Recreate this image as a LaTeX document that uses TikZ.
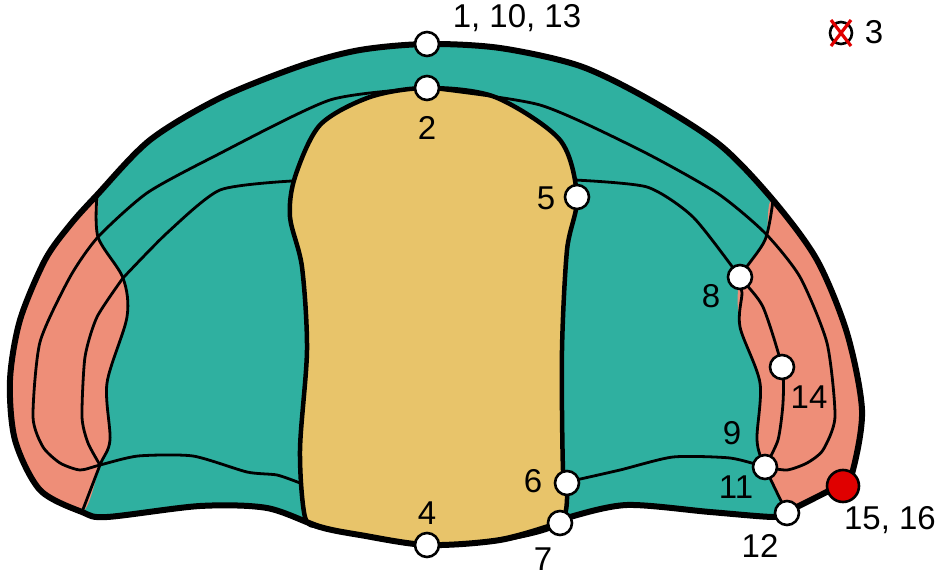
\documentclass[tikz,border=0pt]{standalone}
\usepackage{fontspec}
\usetikzlibrary{calc}
\setmainfont{Liberation Sans}
\definecolor{teal1}{HTML}{2FB0A0}
\definecolor{pink1}{HTML}{EE8E78}
\definecolor{yel1}{HTML}{E8C46A}
\definecolor{red1}{HTML}{E00000}
\tikzset{
 lm/.style={circle,draw=black,fill=white,line width=2.6pt,minimum size=24pt,inner sep=0pt},
 rlm/.style={lm,fill=red1,minimum size=32pt},
 lab/.style={font=\fontsize{33}{34}\selectfont,inner sep=0pt},
 thin/.style={line width=2.8pt,line join=round},
 outl/.style={line width=6pt,line join=round}
}
\begin{document}
\begin{tikzpicture}[x=1pt,y=-1pt]
\useasboundingbox (0,0) rectangle (950,577);
\def\outer{(97,195) (150,140) (220,98) (300,66) (360,50) (427,44) (500,48) (580,66) (650,100) (720,145) (773,200) (817,260) (847,333) (862,410) (853,470) (843,483) (797,507) (787,513) (773,517) (710,512) (627,505) (570,517) (560,523) (500,540) (427,545) (360,535) (320,527) (267,508) (200,506) (107,517) (82,512) (40,490) (15,440) (10,380) (20,320) (45,260) (70,225)}
\fill[teal1] plot[smooth cycle,tension=0.5] coordinates {\outer};
\fill[pink1] plot[smooth cycle,tension=0.5] coordinates {(97,195) (70,225) (45,260) (20,320) (10,380) (15,440) (40,490) (82,512) (100,465) (110,440) (107,383) (127,317) (123,278) (98,237)};
\fill[pink1] plot[smooth cycle,tension=0.5] coordinates {(773,200) (817,260) (847,333) (862,410) (853,470) (843,483) (797,507) (787,513) (765,467) (757,440) (760,383) (740,327) (740,277) (765,240)};
\filldraw[fill=yel1,draw=black,line width=4.5pt] plot[smooth cycle,tension=0.5] coordinates {(427,88) (370,97) (320,125) (295,177) (290,217) (302,267) (307,350) (300,450) (305,517) (320,527) (360,535) (427,545) (500,540) (560,523) (567,483) (563,470) (562,350) (567,250) (577,197) (560,140) (495,97)};
\draw[thin] plot[smooth,tension=0.5] coordinates {(97,195) (98,237) (123,278) (127,317) (107,383) (110,440) (100,465) (82,512)};
\draw[thin] plot[smooth,tension=0.5] coordinates {(773,200) (765,240) (740,277) (742,293) (740,327) (760,383) (757,440) (765,467) (787,513)};
\draw[thin] plot[smooth,tension=0.4] coordinates {(427,88) (330,100) (213,157) (147,193) (98,237) (70,277) (40,342) (33,417) (43,447) (60,463) (80,470) (100,465) (138,456) (193,456) (247,472) (277,475) (300,483)};
\draw[thin] plot[smooth,tension=0.4] coordinates {(123,278) (97,317) (85,357) (82,417) (88,443) (100,465)};
\draw[thin] plot[smooth,tension=0.4] coordinates {(123,278) (167,233) (220,190) (292,181)};
\draw[thin] plot[smooth,tension=0.4] coordinates {(427,88) (540,105) (640,150) (717,193) (765,233) (800,277) (827,343) (835,417) (823,450) (807,463) (787,470) (765,467)};
\draw[thin] plot[smooth,tension=0.4] coordinates {(575,180) (647,187) (693,217) (740,277) (763,307) (782,367) (783,403) (778,440) (765,467)};
\draw[thin] plot[smooth,tension=0.4] coordinates {(567,482) (620,470) (673,457) (730,458) (765,467)};
\draw[outl] plot[smooth cycle,tension=0.5] coordinates {\outer};
\node[lm] (p1) at (427,44) {};
\node[lm] (p2) at (427,88) {};
\node[lm] (p5) at (577,197) {};
\node[lm] (p8) at (740,277) {};
\node[lm] (p14) at (782,367) {};
\node[lm] (p11) at (765,467) {};
\node[lm] (p12) at (787,513) {};
\node[lm] (p6) at (567,483) {};
\node[lm] (p7) at (560,523) {};
\node[lm] (p4) at (427,545) {};
\node[rlm] (p15) at (843,486) {};
\node[lab] (l1) at (517,18) {1, 10, 13};
\node[lab] (l2) at (427,128) {2};
\node[lab] (l5) at (546,198) {5};
\node[lab] (l8) at (711,296) {8};
\node[lab] (l14) at (809,397) {14};
\node[lab] (l9) at (732,433) {9};
\node[lab] (l11) at (736,487) {11};
\node[lab] (l6) at (533,481) {6};
\node[lab] (l4) at (427,513) {4};
\node[lab] (l7) at (543,559) {7};
\node[lab] (l12) at (760,546) {12};
\node[lab] (l15) at (890,520) {15, 16};
\node[lab] (l3) at (874,32) {3};
\node[circle,draw=black,line width=2.6pt,minimum size=22pt,inner sep=0pt] (x3) at (841,33) {};
\draw[red1,line width=3.2pt] ($(x3)+(-10,-13)$) -- ($(x3)+(10,13)$) ($(x3)+(10,-13)$) -- ($(x3)+(-10,13)$);
\end{tikzpicture}
\end{document}
